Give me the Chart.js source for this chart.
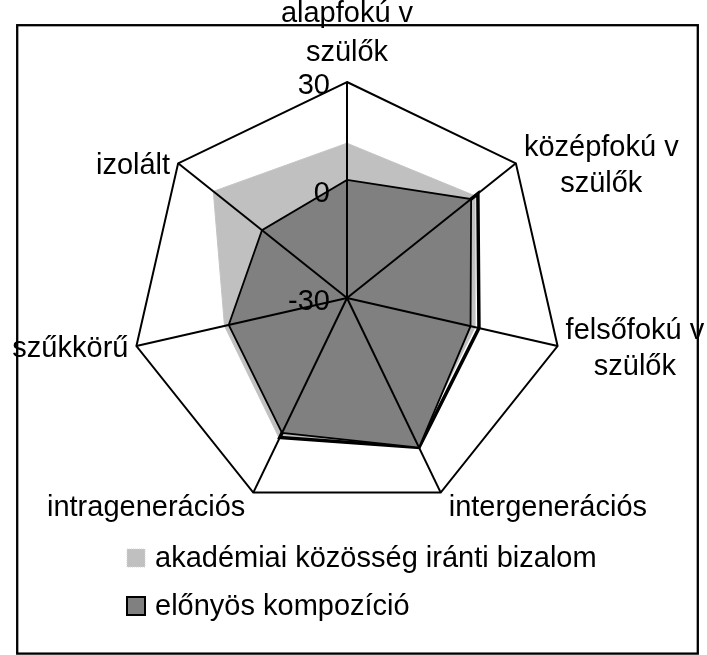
<!DOCTYPE html>
<html>
<head>
<meta charset="utf-8">
<script src="https://cdn.jsdelivr.net/npm/chart.js@4.4.0/dist/chart.umd.min.js"></script>
<style>
  html, body { margin: 0; padding: 0; background: #fff; }
  canvas { display: block; }
</style>
</head>
<body>
<canvas id="radarChart" width="707" height="655"></canvas>
<script>
const categories = [
  ["alapfokú v", "szülők"],
  ["középfokú v", "szülők"],
  ["felsőfokú v", "szülők"],
  "intergenerációs",
  "intragenerációs",
  "szűkkörű",
  "izolált",
];
const seriesNames = ["akadémiai közösség iránti bizalom", "előnyös kompozíció"];
const bizalomValues = [13, 15.5, 6.5, 15, 13.3, 4.9, 17.5];
const kompozicioValues = [2.8, 14.1, 5.2, 16.1, 11.6, 3.7, 0.2];
// the dark series also shows a heavier black edge a little outside its fill
const kompozicioEdge = [-30, 16.5, 7.6, 16.1, 13, -30, -30];
const tickValues = [-30, 0, 30];

const FONT = '29px "Liberation Sans", Arial, sans-serif';

// white page behind the chart
const pagePlugin = {
  id: "page",
  beforeDraw(chart) {
    const ctx = chart.ctx;
    ctx.save();
    ctx.fillStyle = "#fff";
    ctx.fillRect(0, 0, chart.width, chart.height);
    ctx.restore();
  },
};

// excel-style tick labels, point labels, legend and the frame
const textPlugin = {
  id: "radarText",
  afterDraw(chart) {
    const scale = chart.scales.r;
    const ctx = chart.ctx;
    ctx.save();
    ctx.font = FONT;
    ctx.fillStyle = "#000";

    // tick labels, right aligned just left of the top spoke
    ctx.textAlign = "right";
    ctx.textBaseline = "alphabetic";
    scale.ticks.forEach((t) => {
      const y = scale.yCenter - scale.getDistanceFromCenterForValue(t.value);
      ctx.fillText(t.label, scale.xCenter - 17, y + 12);
    });

    // point labels
    ctx.textAlign = "center";
    chart.data.labels.forEach((lab, i) => {
      const lines = [].concat(lab);
      const n = lines.length;
      const p = scale.getPointPosition(i, scale.drawingArea);
      const dx = p.x - scale.xCenter;
      const dy = p.y - scale.yCenter;
      const maxW = Math.max(...lines.map((l) => ctx.measureText(l).width));
      let lineH = 36;
      let cx;
      if (Math.abs(dx) < 1) cx = p.x;
      else if (dx > 0) cx = p.x + 8 + maxW / 2;
      else cx = p.x - 8 - maxW / 2;
      let base;
      if (Math.abs(dx) < 1) {
        lineH = 39;
        base = p.y - 21 - (n - 1) * lineH;
      } else if (dy / scale.drawingArea > 0.5) base = p.y + 23;
      else base = p.y - ((n - 1) * lineH) / 2 + 11;
      lines.forEach((l, k) => ctx.fillText(l, cx, base + k * lineH));
    });

    // legend, one item per line
    const items = chart.data.datasets.filter((d) => d.label);
    ctx.textAlign = "left";
    ctx.textBaseline = "middle";
    items.forEach((d, k) => {
      const cy = 558 + k * 48;
      ctx.fillStyle = d.backgroundColor;
      ctx.fillRect(127, cy - 9, 18, 18);
      ctx.lineWidth = d.legendBorder;
      ctx.strokeStyle = d.legendStroke;
      ctx.setLineDash(d.legendDash);
      ctx.strokeRect(127, cy - 9, 18, 18);
      ctx.setLineDash([]);
      ctx.fillStyle = "#000";
      ctx.fillText(d.label, 155, cy + 1);
    });

    // chart frame
    ctx.lineWidth = 2.3;
    ctx.strokeStyle = "#000";
    ctx.strokeRect(17.2, 25.2, 680.6, 628.4);
    ctx.restore();
  },
};

const ctx = document.getElementById("radarChart").getContext("2d");
new Chart(ctx, {
  type: "radar",
  data: {
    labels: categories,
    datasets: [
      {
        label: seriesNames[0],
        data: bizalomValues,
        backgroundColor: "#c0c0c0",
        borderColor: "#c4c4c4",
        borderWidth: 1,
        fill: "start",
        order: 3,
        legendBorder: 1,
        legendStroke: "#d4d4d4",
        legendDash: [1, 1],
      },
      {
        label: "",
        data: kompozicioEdge,
        backgroundColor: "rgba(0,0,0,0)",
        borderColor: "#000",
        borderWidth: 3.5,
        fill: false,
        order: 2,
      },
      {
        label: seriesNames[1],
        data: kompozicioValues,
        backgroundColor: "#808080",
        borderColor: "#000",
        borderWidth: 1.8,
        fill: "start",
        order: 1,
        legendBorder: 2,
        legendStroke: "#000",
        legendDash: [],
      },
    ],
  },
  options: {
    responsive: false,
    animation: false,
    layout: {
      padding: { top: 82, bottom: 141, left: 131, right: 144 },
    },
    elements: {
      point: { radius: 0, hoverRadius: 0 },
      line: { tension: 0 },
    },
    scales: {
      r: {
        min: -30,
        max: 30,
        afterBuildTicks: (scale) => {
          scale.ticks = tickValues.map((v) => ({ value: v }));
        },
        ticks: { display: false, z: 1 },
        grid: {
          z: 1,
          color: (c) => (c.tick && c.tick.value === 30 ? "#000" : "rgba(0,0,0,0)"),
          lineWidth: 2,
        },
        angleLines: { color: "#000", lineWidth: 2 },
        pointLabels: { display: false },
      },
    },
    plugins: {
      legend: { display: false },
      tooltip: { enabled: false },
    },
  },
  plugins: [pagePlugin, textPlugin],
});
</script>
</body>
</html>
